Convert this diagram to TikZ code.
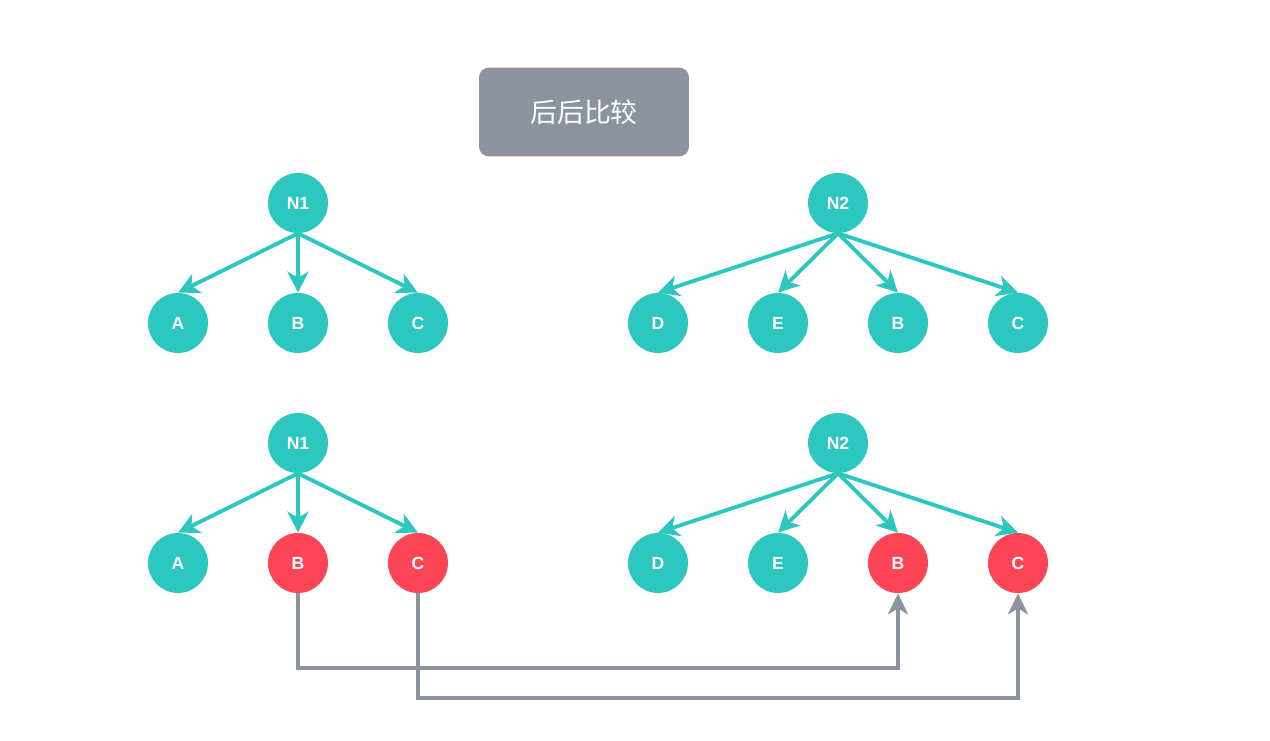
\documentclass[tikz,border=0pt]{standalone}
\usepackage{fontspec}
\setmainfont{Liberation Sans}
\newfontfamily\cjk{Noto Sans CJK SC}
\usepackage{tikz}
\usetikzlibrary{arrows.meta,positioning,calc}

\definecolor{teal}{HTML}{2CC8C0}
\definecolor{hotred}{HTML}{FD4556}
\definecolor{slate}{HTML}{8C939F}

\begin{document}
\begin{tikzpicture}[
  x=0.02cm, y=-0.02cm,
  nd/.style={circle, fill=teal, minimum size=1.2cm, inner sep=0pt,
    text=white, font=\fontsize{10}{12}\selectfont\bfseries},
  hot/.style={nd, fill=hotred},
  arr/.style={-{Stealth[length=0.42cm,width=0.42cm,inset=0.12cm]}, line width=2.2pt, teal},
  link/.style={-{Stealth[length=0.42cm,width=0.4cm,inset=0.12cm]}, line width=2.2pt, slate}
]
\useasboundingbox (0,0) rectangle (1270,740);

% title
\node[fill=slate, rounded corners=0.2cm, minimum width=4.2cm, minimum height=1.78cm,
  text=white, font=\cjk\fontsize{15.3}{17}\selectfont] (title) at (584,112) {后后比较};

% top row
\node[nd] (n1) at (298,203) {N1};
\node[nd] (a1) at (178,323) {A};
\node[nd] (b1) at (298,323) {B};
\node[nd] (c1) at (418,323) {C};
\node[nd] (n2) at (838,203) {N2};
\node[nd] (d2) at (658,323) {D};
\node[nd] (e2) at (778,323) {E};
\node[nd] (b2) at (898,323) {B};
\node[nd] (c2) at (1018,323) {C};
\foreach \t in {a1,b1,c1} \draw[arr] (n1.south) -- (\t.north);
\foreach \t in {d2,e2,b2,c2} \draw[arr] (n2.south) -- (\t.north);

% bottom row
\node[nd] (n1x) at (298,443) {N1};
\node[nd] (a1x) at (178,563) {A};
\node[hot] (b1x) at (298,563) {B};
\node[hot] (c1x) at (418,563) {C};
\node[nd] (n2x) at (838,443) {N2};
\node[nd] (d2x) at (658,563) {D};
\node[nd] (e2x) at (778,563) {E};
\node[hot] (b2x) at (898,563) {B};
\node[hot] (c2x) at (1018,563) {C};
\foreach \t in {a1x,b1x,c1x} \draw[arr] (n1x.south) -- (\t.north);
\foreach \t in {d2x,e2x,b2x,c2x} \draw[arr] (n2x.south) -- (\t.north);

% matches
\draw[link] (b1x.south) -- ++(0,75) -| (b2x.south);
\draw[link] (c1x.south) -- ++(0,105) -| (c2x.south);
\end{tikzpicture}
\end{document}
